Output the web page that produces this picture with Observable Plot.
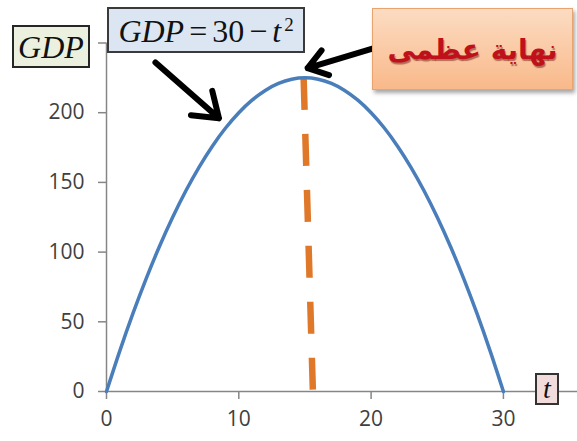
<!DOCTYPE html>
<html><head><meta charset="utf-8">
<script src="https://cdn.jsdelivr.net/npm/d3@7"></script>
<script src="https://cdn.jsdelivr.net/npm/@observablehq/plot@0.6"></script>
<style>
body{margin:0;background:#fff;}
#wrap{position:relative;width:577px;height:441px;overflow:hidden;background:#fff;}
#wrap svg{position:absolute;left:0;top:0;}
.box{position:absolute;box-sizing:border-box;display:flex;align-items:center;justify-content:center;white-space:nowrap;}
.serif{font-family:"Liberation Serif","DejaVu Serif",serif;color:#111;}
#gdpBox{left:12px;top:25px;width:78px;height:43px;background:#EBF1DE;border:2px solid #262626;font-size:32px;font-style:italic;padding-top:2px;}
#formulaBox{left:107px;top:7px;width:198px;height:46px;background:#DCE6F2;border:2px solid #3a3a3a;font-size:32px;padding-top:2px;}
#formulaBox .op{margin:0 5px;}
#formulaBox sup{font-size:19px;position:relative;top:-6px;margin-left:3px;}
#arBox{left:372px;top:8px;width:201px;height:82px;background:linear-gradient(#FCDCC2,#F9B98A);border:1.5px solid #E9A36F;box-shadow:2px 3px 4px rgba(0,0,0,0.35);font-family:"DejaVu Sans",sans-serif;font-weight:bold;font-size:28px;color:#C0101A;text-shadow:1px 2px 1px rgba(90,0,0,0.45);direction:rtl;}
#tBox{left:535px;top:373px;width:24px;height:32px;background:#F2DCDB;border:2px solid #333;font-size:28px;font-style:italic;}
svg [aria-label="x-axis"] line, svg [aria-label="y-axis"] line,
svg [aria-label="x-axis tick"] path, svg [aria-label="y-axis tick"] path{stroke:#868686;stroke-width:1.5;}
</style></head><body><div id="wrap"></div><script>
// curve values
const tValues = [0,1,2,3,4,5,6,7,8,9,10,11,12,13,14,15,16,17,18,19,20,21,22,23,24,25,26,27,28,29,30];
const gdpValues = [0,29,56,81,104,125,144,161,176,189,200,209,216,221,224,225,224,221,216,209,200,189,176,161,144,125,104,81,56,29,0];
const xTicks = [0,10,20,30];
const yTicks = [0,50,100,150,200,250];
// dashed maximum line (slightly slanted in the picture)
const maxLineT = [14.9, 15.6];
const maxLineY = [225, 0];
// annotation arrows
const arrowX1 = [3.7, 20.1];
const arrowY1 = [236, 246];
const arrowX2 = [8.5, 15.2];
const arrowY2 = [196, 232];

const curve = tValues.map((t, i) => ({t, g: gdpValues[i]}));
const maxLine = maxLineT.map((t, i) => ({t, g: maxLineY[i]}));
const arrows = arrowX1.map((x, i) => ({x1: x, y1: arrowY1[i], x2: arrowX2[i], y2: arrowY2[i]}));

const chart = Plot.plot({
  width: 577,
  height: 441,
  marginLeft: 106,
  marginRight: 0,
  marginTop: 42.5,
  marginBottom: 50,
  style: {fontSize: "21px", fontFamily: "Open Sans, sans-serif", color: "#404040", background: "transparent", overflow: "visible"},
  x: {domain: [0, 35.6], ticks: xTicks, tickSize: 8, tickPadding: 12, label: null},
  y: {domain: [0, 250], ticks: yTicks, tickSize: 8, tickPadding: 14, label: null, tickFormat: d => d === 250 ? "" : d},
  marks: [
    Plot.ruleY([0], {stroke: "#868686", strokeWidth: 1.5}),
    Plot.ruleX([0], {y1: 0, y2: 250, stroke: "#868686", strokeWidth: 1.5}),
    Plot.line(maxLine, {x: "t", y: "g", stroke: "#E0782A", strokeWidth: 6.5, strokeDasharray: "32,24", strokeLinecap: "butt"}),
    Plot.line(curve, {x: "t", y: "g", stroke: "#4A7EBB", strokeWidth: 3.5, curve: "catmull-rom"}),
    Plot.arrow(arrows, {x1: "x1", y1: "y1", x2: "x2", y2: "y2", stroke: "#000", strokeWidth: 6, headLength: 14, headAngle: 70})
  ]
});
const wrap = document.getElementById("wrap");
wrap.appendChild(chart);
wrap.insertAdjacentHTML("beforeend", `
<div class="box serif" id="gdpBox">GDP</div>
<div class="box serif" id="formulaBox"><i>GDP</i><span class="op">=</span>30<span class="op">−</span><i>t</i><sup>2</sup></div>
<div class="box" id="arBox">نهاية عظمى</div>
<div class="box serif" id="tBox">t</div>
`);
</script></body></html>
